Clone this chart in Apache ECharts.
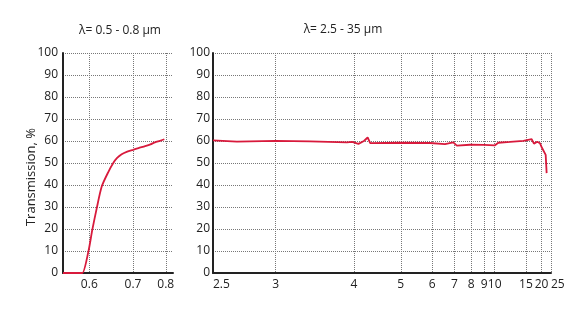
<!DOCTYPE html>
<html>
<head>
<meta charset="utf-8">
<script src="https://cdn.jsdelivr.net/npm/echarts@6/dist/echarts.min.js"></script>
<style>
    html, body { margin: 0; padding: 0; background: #fff; }
    #chart { width: 588px; height: 314px; }
</style>
</head>
<body>
<div id="chart"></div>
<script>
// visible range, wavelength in um
var wlVis = [0.5525, 0.826];
var wlIr = [2.5, 25];

// tick labels (um)
var ticksVis = [0.6, 0.7, 0.8];
var ticksIr = [2.5, 3, 4, 5, 6, 7, 8, 9, 10, 15, 20, 25];
var yTicks = [0, 10, 20, 30, 40, 50, 60, 70, 80, 90, 100];

// measured curve, visible
var visWl = [0.5525, 0.56, 0.57, 0.58, 0.5866, 0.598, 0.606, 0.615, 0.6254, 0.64, 0.651, 0.66, 0.671, 0.685, 0.7, 0.715, 0.734, 0.75, 0.764, 0.78, 0.795];
var visT  = [0, 0, 0, 0, 0, 9.5, 19.7, 29.5, 39.3, 46, 50, 52.3, 54, 55.2, 56, 56.8, 57.7, 58.5, 59.4, 60.1, 60.8];

// measured curve, infrared
var irWl = [2.5, 2.67, 3.0, 3.37, 3.885, 3.97, 4.08, 4.18, 4.25, 4.30, 5.0, 5.92, 6.54, 6.94, 7.13, 7.92, 9.0, 10.0, 10.4, 11.96, 14.4, 16.5, 16.8, 17.2, 18.3, 19.3, 20.2, 21.1, 21.9, 22.4];
var irT  = [60.3, 59.7, 60.1, 59.8, 59.4, 59.6, 58.7, 60, 61.6, 59, 59.2, 59.1, 58.6, 59.4, 57.9, 58.3, 58.2, 58, 59.2, 59.6, 60.1, 60.8, 61.3, 58.8, 59.7, 59, 56.8, 55.9, 53.7, 45.4];

// x axes are linear in wavenumber (cm-1)
function wn(l) { return 10000 / l; }
function pairs(xs, ys) {
    var out = [];
    for (var i = 0; i < xs.length; i++) {
        out.push([wn(xs[i]), ys[i]]);
    }
    return out;
}
function wlLabel(v) {
    return String(+(10000 / v).toFixed(2));
}

var txt = '#222';
var font = 'Open Sans';
var red = '#d81a3c';
var gridLine = { show: true, lineStyle: { type: 'dotted', color: '#777', width: 1 } };

function xAxisFor(idx, range, ticks) {
    var custom = ticks.map(wn);
    // inverse axis: "min" label sits on the left, "max" on the right
    var edge = idx == 1 ? 'left' : 'center';
    return {
        type: 'value',
        gridIndex: idx,
        inverse: true,
        min: wn(range[1]),
        max: wn(range[0]),
        axisLine: { show: true, onZero: false, lineStyle: { color: txt, width: 2 } },
        axisTick: { show: false, customValues: custom },
        axisLabel: {
            customValues: custom,
            formatter: wlLabel,
            color: txt,
            fontFamily: font,
            fontSize: 12,
            margin: 6,
            showMinLabel: true,
            showMaxLabel: true,
            hideOverlap: false,
            alignMinLabel: edge,
            alignMaxLabel: edge
        },
        splitLine: gridLine
    };
}

function yAxisFor(idx) {
    return {
        type: 'value',
        gridIndex: idx,
        min: yTicks[0],
        max: yTicks[yTicks.length - 1],
        interval: 10,
        axisLine: { show: true, lineStyle: { color: txt, width: 2 } },
        axisTick: { show: false },
        axisLabel: { color: txt, fontFamily: font, fontSize: 12, margin: idx == 0 ? 5 : 3 },
        splitLine: gridLine
    };
}

var chart = echarts.init(document.getElementById('chart'), null, { renderer: 'canvas' });

var option = {
    animation: false,
    backgroundColor: '#fff',
    title: [
        {
            text: 'λ= 0.5 - 0.8 µm',
            left: 115, top: 20, textAlign: 'center',
            textStyle: { color: txt, fontFamily: font, fontSize: 12, fontWeight: 'normal' }
        },
        {
            text: 'λ= 2.5 - 35 µm',
            left: 338, top: 19, textAlign: 'center',
            textStyle: { color: txt, fontFamily: font, fontSize: 12, fontWeight: 'normal' }
        }
    ],
    graphic: [
        {
            type: 'text',
            x: 31, y: 177,
            rotation: Math.PI / 2,
            style: {
                text: 'Transmission, %',
                fill: txt,
                font: '13px "Open Sans"',
                textAlign: 'center',
                textVerticalAlign: 'middle'
            }
        }
    ],
    grid: [
        { left: 63, top: 53, width: 110, height: 220 },
        { left: 213, top: 53, width: 338, height: 220 }
    ],
    xAxis: [
        xAxisFor(0, wlVis, ticksVis),
        xAxisFor(1, wlIr, ticksIr)
    ],
    yAxis: [
        yAxisFor(0),
        yAxisFor(1)
    ],
    series: [
        {
            type: 'line',
            xAxisIndex: 0, yAxisIndex: 0,
            data: pairs(visWl, visT),
            symbol: 'none',
            smooth: 0.25,
            lineStyle: { color: red, width: 1.8 }
        },
        {
            type: 'line',
            xAxisIndex: 1, yAxisIndex: 1,
            data: pairs(irWl, irT),
            symbol: 'none',
            lineStyle: { color: red, width: 1.8 }
        }
    ]
};

chart.setOption(option);
</script>
</body>
</html>
